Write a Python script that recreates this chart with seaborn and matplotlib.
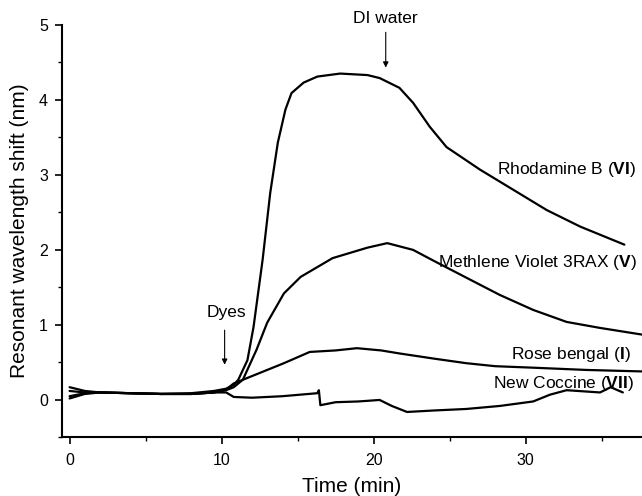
import numpy as np
import pandas as pd
import matplotlib
matplotlib.use("Agg")
import matplotlib.pyplot as plt
from matplotlib.ticker import MultipleLocator
import seaborn as sns

# lectures de la courbe (temps en min, decalage en nm)
t_rhod = [0, 1, 2, 4, 6, 8, 9.5, 10.3, 10.8, 11.1, 11.7, 12.1, 12.7, 13.2, 13.7, 14.2, 14.6, 15.4,
          16.3, 17.8, 19.6, 20.4, 21.7, 22.6, 23.7, 24.8, 27.0, 29.2, 31.4, 33.6, 36.5]
v_rhod = [0.17, 0.12, 0.1, 0.09, 0.08, 0.09, 0.12, 0.15, 0.2, 0.27, 0.53, 0.97, 1.87, 2.76, 3.43, 3.87, 4.09, 4.23,
          4.31, 4.35, 4.33, 4.29, 4.16, 3.96, 3.64, 3.37, 3.07, 2.8, 2.53, 2.31, 2.07]

t_meth = [0, 1, 2, 4, 6, 8, 9.5, 10.3, 10.8, 11.4, 12.3, 13.0, 14.1, 15.2, 17.3, 19.6, 20.9, 22.6,
          24.0, 26.1, 28.3, 30.5, 32.7, 34.9, 37.7]
v_meth = [0.12, 0.1, 0.1, 0.09, 0.08, 0.08, 0.1, 0.13, 0.17, 0.27, 0.67, 1.03, 1.42, 1.64, 1.89, 2.03, 2.09, 2.0,
          1.85, 1.63, 1.4, 1.2, 1.04, 0.96, 0.87]

t_rose = [0, 1, 2, 4, 6, 8, 9.5, 10.3, 10.8, 11.9, 13.0, 14.1, 15.8, 17.5, 18.9, 20.5, 21.7, 24.0,
          26.1, 28.0, 30.5, 34.0, 37.7]
v_rose = [0.05, 0.09, 0.1, 0.09, 0.08, 0.08, 0.1, 0.14, 0.22, 0.31, 0.4, 0.49, 0.64, 0.66, 0.69, 0.66, 0.62, 0.55,
          0.49, 0.45, 0.43, 0.4, 0.38]

t_cocc = [0, 1, 2, 4, 6, 8, 9.5, 10.3, 10.8, 12, 14, 16.3, 16.4, 16.5, 17.5, 19, 20.4, 21.2, 22.2,
          24, 26.1, 28.3, 30.5, 31.6, 32.7, 34.9, 35.6, 36.4]
v_cocc = [0.02, 0.08, 0.1, 0.09, 0.08, 0.08, 0.1, 0.1, 0.04, 0.03, 0.05, 0.09, 0.13, -0.07, -0.03, -0.02, 0.0, -0.08, -0.16,
          -0.14, -0.12, -0.08, -0.02, 0.07, 0.13, 0.1, 0.17, 0.1]

dyes = ["Rhodamine B", "Methlene Violet 3RAX", "Rose bengal", "New Coccine"]
labels = [r"Rhodamine B ($\mathbf{VI}$)", r"Methlene Violet 3RAX ($\mathbf{V}$)",
          r"Rose bengal ($\mathbf{I}$)", r"New Coccine ($\mathbf{VII}$)"]
label_x = [37.3, 37.3, 36.9, 37.1]
label_y = [3.07, 1.83, 0.6, 0.22]

frames = []
for name, t, v in zip(dyes, [t_rhod, t_meth, t_rose, t_cocc], [v_rhod, v_meth, v_rose, v_cocc]):
    frames.append(pd.DataFrame({"time": t, "shift": v, "dye": name}))
df = pd.concat(frames, ignore_index=True)

sns.set_style("ticks")
plt.rcParams["font.family"] = ["Liberation Sans", "DejaVu Sans"]
plt.rcParams["mathtext.fontset"] = "custom"
plt.rcParams["mathtext.rm"] = "Liberation Sans"
plt.rcParams["mathtext.bf"] = "Liberation Sans:bold"
plt.rcParams["text.color"] = "black"
plt.rcParams["axes.labelcolor"] = "black"

fig = plt.figure(figsize=(6.42, 4.96), dpi=100)
ax = fig.add_axes([62 / 642, 0.118, 1 - 62 / 642, 0.832])

sns.lineplot(data=df, x="time", y="shift", hue="dye", palette={d: "black" for d in dyes},
             estimator=None, sort=False, legend=False, linewidth=1.6, ax=ax)

ax.set_xlim(-0.5, 37.66)
ax.set_ylim(-0.5, 5)
ax.xaxis.set_major_locator(MultipleLocator(10))
ax.xaxis.set_minor_locator(MultipleLocator(5))
ax.yaxis.set_major_locator(MultipleLocator(1))
ax.yaxis.set_minor_locator(MultipleLocator(0.5))
ax.tick_params(which="major", direction="out", length=5, width=1.2, labelsize=11.5, colors="black")
ax.tick_params(axis="x", which="major", pad=6)
ax.tick_params(axis="y", which="major", pad=5)
ax.tick_params(which="minor", direction="out", length=3, width=1.0, colors="black")
sns.despine(ax=ax)
for s in ["left", "bottom"]:
    ax.spines[s].set_linewidth(1.5)
    ax.spines[s].set_color("black")

ax.set_xlabel("Time (min)", fontsize=15, labelpad=7)
ax.set_ylabel("Resonant wavelength shift (nm)", fontsize=15, labelpad=7)

for lab, x, y in zip(labels, label_x, label_y):
    ax.text(x, y, lab, ha="right", va="center", fontsize=12.5)

arrow = dict(arrowstyle="-|>", color="black", lw=0.8, mutation_scale=8, shrinkA=0, shrinkB=0)
ax.annotate("", xy=(10.2, 0.47), xytext=(10.2, 0.93), arrowprops=arrow)
ax.text(10.3, 1.16, "Dyes", ha="center", va="center", fontsize=12.5)
ax.annotate("", xy=(20.8, 4.43), xytext=(20.8, 4.9), arrowprops=arrow, annotation_clip=False)
ax.text(20.8, 5.08, "DI water", ha="center", va="center", fontsize=12.5, clip_on=False)

fig.savefig("out.png", dpi=100)
